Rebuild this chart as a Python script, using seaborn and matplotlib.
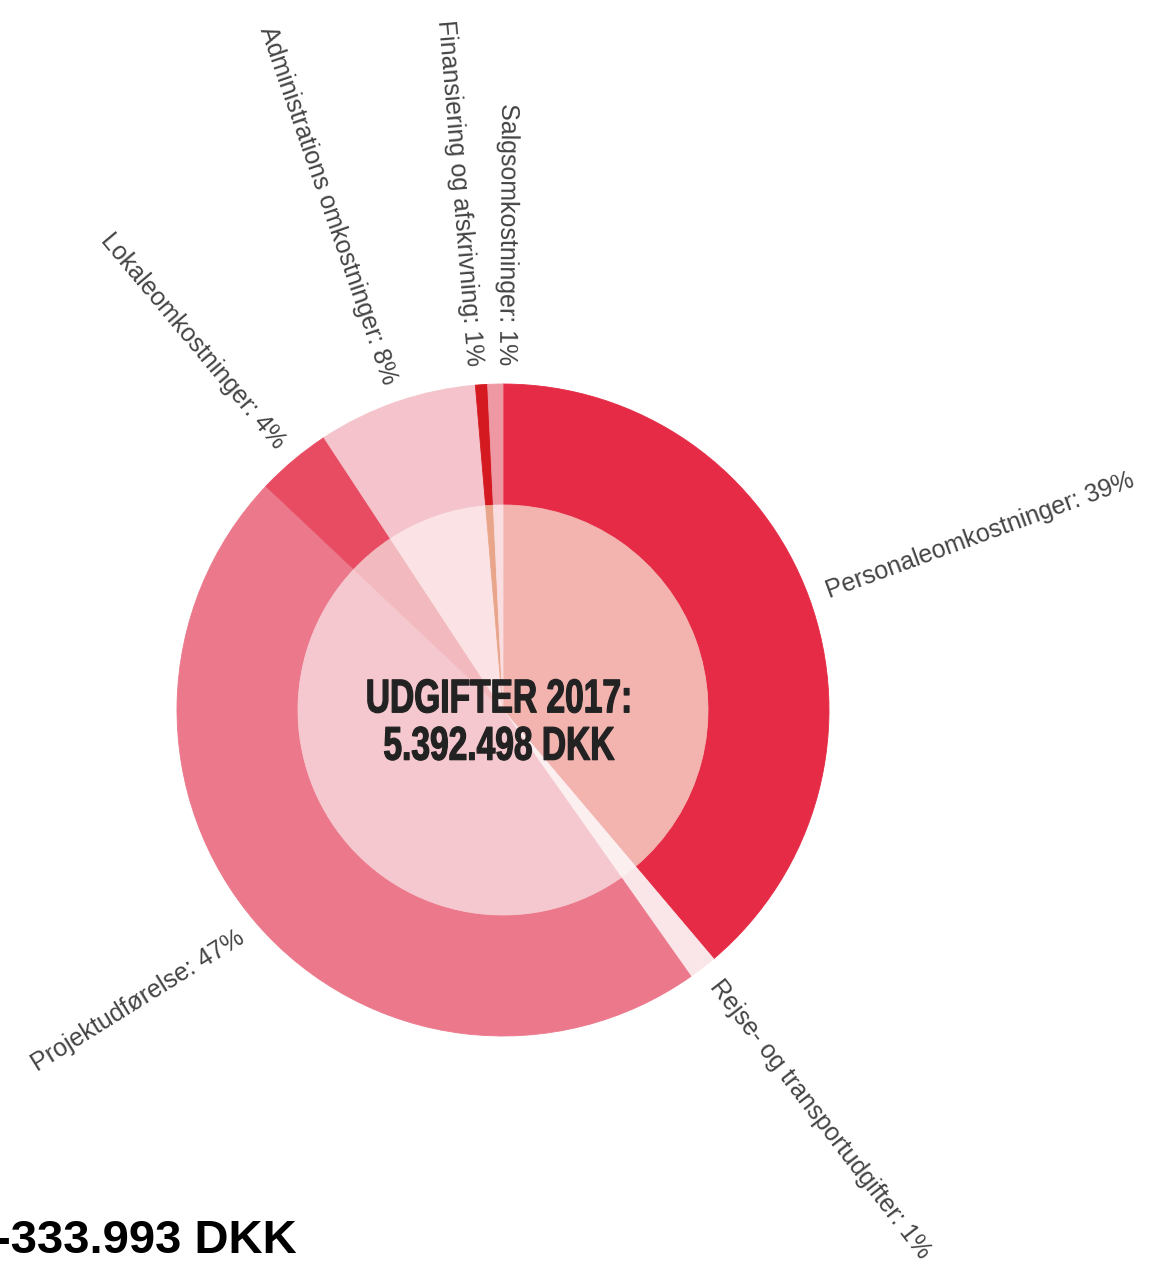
import numpy as np
import matplotlib
matplotlib.use("Agg")
import matplotlib.pyplot as plt
import matplotlib.patheffects as pe
from matplotlib.transforms import Affine2D
import seaborn as sns

# Udgifter 2017 - andel i procent
kategorier = [
    "Personaleomkostninger",
    "Rejse- og transportudgifter",
    "Projektudførelse",
    "Lokaleomkostninger",
    "Administrations omkostninger",
    "Finansiering og afskrivning",
    "Salgsomkostninger",
]
andele = [38.8, 1.4, 46.8, 3.7, 7.9, 0.6, 0.75]
etiket_pct = ["39%", "1%", "47%", "4%", "8%", "1%", "1%"]

farver_ydre = ["#E52B45", "#FAE6E8", "#EC788B", "#E84C62", "#F4C3CB", "#D51920", "#EE98A4"]
farver_indre = ["#F3B4B0", "#FBEFF0", "#F5C8CF", "#F2B9BE", "#FAE2E5", "#E9A58A", "#F9DDE0"]

# små justeringer af etiketternes placering/drejning (grader), så de ikke overlapper
vinkel_just = [0, 0, 0, 0, 0, 1.0, -1.8]
drej_just = [0, 0, -9, 0, 0, 0, 0]

total_tekst = "UDGIFTER 2017:\n5.392.498 DKK"
resultat_tekst = "-333.993 DKK"

sns.set_theme(style="white")
plt.rcParams['font.family'] = ['Liberation Sans', 'DejaVu Sans']

W, H = 1171, 1272
cx, cy = 503, 710
R_ud, R_ind = 326, 205


class Sammentryk(pe.AbstractPathEffect):
    """Trykker teksten sammen vandret (kondenseret look) og gør den lidt federe."""

    def __init__(self, sx, x0, lw):
        super().__init__()
        self.sx, self.x0, self.lw = sx, x0, lw

    def draw_path(self, renderer, gc, tpath, affine, rgbFace=None):
        t = affine + Affine2D().translate(-self.x0, 0).scale(self.sx, 1).translate(self.x0, 0)
        gc0 = renderer.new_gc()
        gc0.copy_properties(gc)
        gc0.set_linewidth(self.lw)
        gc0.set_foreground(rgbFace)
        gc0.set_joinstyle("round")
        renderer.draw_path(gc0, tpath, t, rgbFace)
        gc0.restore()


fig = plt.figure(figsize=(W / 100, H / 100), dpi=100)
ax = fig.add_axes([0, 0, 1, 1])

# ydre ring
wedges, _ = ax.pie(andele, radius=R_ud, colors=farver_ydre, startangle=90,
                   counterclock=False,
                   wedgeprops=dict(width=R_ud - R_ind, linewidth=0.6))
# indre cirkel i lysere nuancer
indre, _ = ax.pie(andele, radius=R_ind, colors=farver_indre, startangle=90,
                  counterclock=False, wedgeprops=dict(linewidth=0.6))
for w in list(wedges) + list(indre):
    w.set_edgecolor(w.get_facecolor())

# pie() sætter selv grænserne, så de sættes bagefter
ax.set_xlim(-cx, W - cx)
ax.set_ylim(-(H - cy), cy)
ax.set_aspect("equal")
ax.axis("off")

# radiale etiketter
for w, navn, pct, dv, dr in zip(wedges, kategorier, etiket_pct, vinkel_just, drej_just):
    midt = (w.theta1 + w.theta2) / 2.0
    vinkel = midt + dv
    rad = np.deg2rad(vinkel)
    x, y = 345 * np.cos(rad), 345 * np.sin(rad)
    if np.cos(np.deg2rad(midt)) >= 0:
        rot, ha = vinkel, "left"
    else:
        rot, ha = vinkel - 180, "right"
    rot = (rot + dr + 180) % 360 - 180
    ax.text(x, y, f"{navn}: {pct}", rotation=rot, rotation_mode="anchor",
            ha=ha, va="center", fontsize=18, color="#444444")

tx, ty = -4, -14
x0 = ax.transData.transform((tx, ty))[0]
ax.text(tx, ty, total_tekst, ha="center", va="center", fontsize=34,
        fontweight="bold", color="#222222", linespacing=1.1,
        path_effects=[Sammentryk(0.71, x0, 0.9)])

fig.text(-0.004, (H - 1253) / H, resultat_tekst, ha="left", va="baseline",
         fontsize=34, fontweight="bold", color="black")

fig.savefig("out.png", dpi=100, facecolor="white")
